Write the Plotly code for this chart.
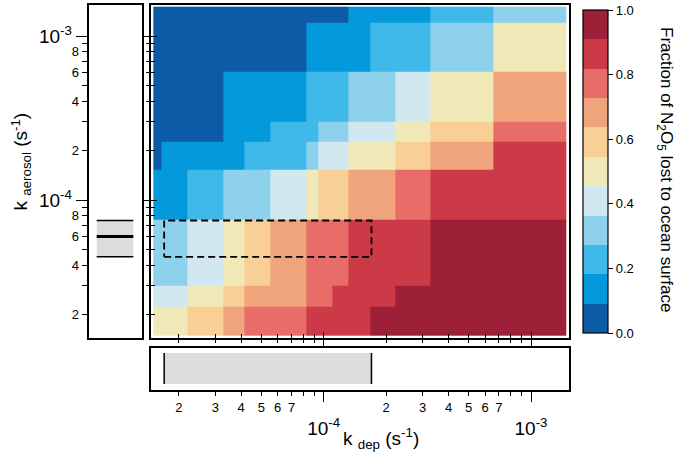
import plotly.graph_objects as go

FONT = "Liberation Sans, Arial, sans-serif"

# ---------------- data ----------------
# cell edges of the k_dep (x) and k_aerosol (y) grid, s^-1
kdep_edges = [1.507e-5, 1.654e-5, 2.203e-5, 3.285e-5, 4.135e-5, 5.51e-5, 8.21e-5,
              9.42e-5, 1.096e-4, 1.312e-4, 1.672e-4, 2.208e-4, 3.28e-4, 6.58e-4, 1.486e-3]
kaer_edges = [1.494e-5, 2.244e-5, 3.01e-5, 7.55e-5, 1.524e-4, 2.266e-4, 3.00e-4,
              6.06e-4, 1.205e-3, 1.509e-3]

# fraction of N2O5 lost to ocean surface (rows bottom -> top)
frac_row1 = [0.50, 0.50, 0.59, 0.68, 0.77, 0.77, 0.86, 0.86, 0.86, 0.86, 0.95, 0.95, 0.95, 0.95]
frac_row2 = [0.41, 0.41, 0.50, 0.59, 0.68, 0.68, 0.77, 0.77, 0.86, 0.86, 0.86, 0.95, 0.95, 0.95]
frac_row3 = [0.32, 0.32, 0.41, 0.50, 0.59, 0.68, 0.77, 0.77, 0.77, 0.86, 0.86, 0.86, 0.95, 0.95]
frac_row4 = [0.14, 0.14, 0.23, 0.32, 0.32, 0.41, 0.50, 0.59, 0.59, 0.68, 0.68, 0.77, 0.86, 0.86]
frac_row5 = [0.05, 0.14, 0.14, 0.14, 0.23, 0.23, 0.32, 0.41, 0.41, 0.50, 0.50, 0.59, 0.68, 0.86]
frac_row6 = [0.05, 0.05, 0.05, 0.14, 0.14, 0.23, 0.23, 0.32, 0.32, 0.41, 0.41, 0.50, 0.59, 0.77]
frac_row7 = [0.05, 0.05, 0.05, 0.14, 0.14, 0.14, 0.23, 0.23, 0.23, 0.32, 0.32, 0.41, 0.50, 0.68]
frac_row8 = [0.05, 0.05, 0.05, 0.05, 0.05, 0.05, 0.14, 0.14, 0.14, 0.14, 0.23, 0.23, 0.32, 0.50]
frac_row9 = [0.05, 0.05, 0.05, 0.05, 0.05, 0.05, 0.05, 0.05, 0.05, 0.14, 0.14, 0.14, 0.23, 0.32]

# observed ranges
kdep_range = [1.7e-5, 1.7e-4]
kaer_range = [4.5e-5, 7.5e-5]
kaer_best = 6.0e-5

# ticks
decade_ticks = [1e-4, 1e-3]
decade_labels = ["10<sup>-4</sup>", "10<sup>-3</sup>"]
minor_ticks = [2e-5, 3e-5, 4e-5, 5e-5, 6e-5, 7e-5, 8e-5, 9e-5,
               2e-4, 3e-4, 4e-4, 5e-4, 6e-4, 7e-4, 8e-4, 9e-4]
x_lab_ticks = [2e-5, 3e-5, 4e-5, 5e-5, 6e-5, 7e-5, 2e-4, 3e-4, 4e-4, 5e-4, 6e-4, 7e-4]
x_lab_text = ["2", "3", "4", "5", "6", "7", "2", "3", "4", "5", "6", "7"]
x_unlab_ticks = [8e-5, 9e-5, 8e-4, 9e-4]
y_lab_ticks = [2e-5, 4e-5, 6e-5, 8e-5, 2e-4, 4e-4, 6e-4, 8e-4]
y_lab_text = ["2", "4", "6", "8", "2", "4", "6", "8"]
y_unlab_ticks = [3e-5, 5e-5, 7e-5, 9e-5, 3e-4, 5e-4, 7e-4, 9e-4]
cbar_ticks = [0.0, 0.2, 0.4, 0.6, 0.8, 1.0]
cbar_labels = ["0.0", "0.2", "0.4", "0.6", "0.8", "1.0"]

bin_colors = ["#0b5ba7", "#0399da", "#3fb9ea", "#8ed1ec", "#d2e8f0", "#f1e8b8",
              "#f8d096", "#f0a47c", "#e86d68", "#cc3a47", "#9e1f38"]

# ---------------- figure ----------------
frac = [frac_row1, frac_row2, frac_row3, frac_row4, frac_row5,
        frac_row6, frac_row7, frac_row8, frac_row9]
nb = len(bin_colors)
cscale = []
for k, c in enumerate(bin_colors):
    cscale.append([k / nb, c])
    cscale.append([(k + 1) / nb, c])

fig = go.Figure()

fig.add_trace(go.Heatmap(
    x=kdep_edges, y=kaer_edges, z=frac, zmin=0, zmax=1,
    colorscale=cscale, hoverinfo="skip", xaxis="x", yaxis="y",
    colorbar=dict(
        x=583 / 678, xanchor="left", xpad=0, ypad=0,
        y=(457 - 171.5) / 457, yanchor="middle", len=323 / 457, lenmode="fraction",
        thickness=25, outlinewidth=1.2, outlinecolor="black",
        tickmode="array", tickvals=cbar_ticks, ticktext=cbar_labels,
        ticks="outside", ticklen=5, tickwidth=1.2, tickcolor="black",
        tickfont=dict(family=FONT, size=13, color="black"),
    ),
))

# dashed box on the main panel
fig.add_trace(go.Scatter(
    x=[kdep_range[0], kdep_range[1], kdep_range[1], kdep_range[0], kdep_range[0]],
    y=[kaer_range[0], kaer_range[0], kaer_range[1], kaer_range[1], kaer_range[0]],
    mode="lines", line=dict(color="black", width=1.8, dash="7px,4px"),
    xaxis="x", yaxis="y", hoverinfo="skip", showlegend=False))

# left panel: k_aerosol range
bx = [0.155, 0.845]
fig.add_trace(go.Scatter(
    x=[bx[0], bx[1], bx[1], bx[0]], y=[kaer_range[0], kaer_range[0], kaer_range[1], kaer_range[1]],
    fill="toself", fillcolor="#dcdcdc", mode="lines", line=dict(width=0),
    xaxis="x3", yaxis="y3", hoverinfo="skip", showlegend=False))
for val, w in [(kaer_range[0], 1.5), (kaer_range[1], 1.5), (kaer_best, 3)]:
    fig.add_trace(go.Scatter(
        x=bx, y=[val, val], mode="lines", line=dict(color="black", width=w),
        xaxis="x3", yaxis="y3", hoverinfo="skip", showlegend=False))

# bottom panel: k_dep range
by = [0.143, 0.88]
fig.add_trace(go.Scatter(
    x=[kdep_range[0], kdep_range[1], kdep_range[1], kdep_range[0]], y=[by[0], by[0], by[1], by[1]],
    fill="toself", fillcolor="#dcdcdc", mode="lines", line=dict(width=0),
    xaxis="x2", yaxis="y2", hoverinfo="skip", showlegend=False))
for val in kdep_range:
    fig.add_trace(go.Scatter(
        x=[val, val], y=by, mode="lines", line=dict(color="black", width=1.5),
        xaxis="x2", yaxis="y2", hoverinfo="skip", showlegend=False))

# empty traces so that the overlay tick axes are drawn
for xa, ya in [("x4", "y2"), ("x3", "y4"), ("x5", "y"), ("x", "y5")]:
    fig.add_trace(go.Scatter(x=[], y=[], xaxis=xa, yaxis=ya, mode="lines",
                             hoverinfo="skip", showlegend=False))

# ---------------- layout ----------------
XDOM = [151 / 678, 569 / 678]
YDOM = [(457 - 338) / 457, (457 - 5) / 457]
XR = [-4.83309, -2.81669]
YR = [-4.84146, -2.81098]

frame = dict(showline=True, mirror=True, linecolor="black", linewidth=1.5,
             showgrid=False, zeroline=False)
tickbase = dict(tickcolor="black", tickwidth=1.2, tickmode="array")


def minor(vals, ticks, ln):
    return dict(tickmode="array", tickvals=vals, ticks=ticks, ticklen=ln,
                tickwidth=1.2, tickcolor="black", showgrid=False)


fig.update_layout(
    width=678, height=457, margin=dict(l=0, r=0, t=0, b=0),
    paper_bgcolor="white", plot_bgcolor="white", showlegend=False,
    font=dict(family=FONT, color="black"),
    # main panel
    xaxis=dict(domain=XDOM, type="log", range=XR, anchor="y", **frame, **tickbase,
               ticks="outside", tickvals=decade_ticks, ticklen=6, showticklabels=False,
               minor=minor(minor_ticks, "outside", 3)),
    yaxis=dict(domain=YDOM, type="log", range=YR, anchor="x", **frame, **tickbase,
               ticks="outside", tickvals=decade_ticks, ticklen=6, showticklabels=False,
               minor=minor(minor_ticks, "outside", 3)),
    xaxis5=dict(overlaying="x", type="log", range=XR, anchor="y", side="bottom",
                showline=False, showgrid=False, zeroline=False, **tickbase,
                ticks="inside", tickvals=decade_ticks, ticklen=6, showticklabels=False,
                minor=minor(minor_ticks, "inside", 4)),
    yaxis5=dict(overlaying="y", type="log", range=YR, anchor="x", side="left",
                showline=False, showgrid=False, zeroline=False, **tickbase,
                ticks="inside", tickvals=decade_ticks, ticklen=6, showticklabels=False,
                minor=minor(minor_ticks, "inside", 4)),
    # bottom panel
    xaxis2=dict(domain=XDOM, type="log", range=XR, anchor="y2", **frame, **tickbase,
                ticks="outside", tickvals=decade_ticks, ticktext=decade_labels, ticklen=10,
                tickfont=dict(size=19), ticklabelstandoff=10),
    xaxis4=dict(overlaying="x2", type="log", range=XR, anchor="y2", side="bottom",
                showline=False, showgrid=False, zeroline=False, **tickbase,
                ticks="outside", tickvals=x_lab_ticks, ticktext=x_lab_text, ticklen=5,
                tickfont=dict(size=13), minor=minor(x_unlab_ticks, "outside", 5)),
    yaxis2=dict(domain=[(457 - 390) / 457, (457 - 348) / 457], range=[0, 1], anchor="x2",
                **frame, ticks="", showticklabels=False),
    # left panel
    xaxis3=dict(domain=[88.5 / 678, 141.5 / 678], range=[0, 1], anchor="y3", **frame,
                ticks="", showticklabels=False),
    yaxis3=dict(domain=YDOM, type="log", range=YR, anchor="x3", **frame, **tickbase,
                ticks="outside", tickvals=decade_ticks, ticktext=decade_labels, ticklen=11,
                tickfont=dict(size=19)),
    yaxis4=dict(overlaying="y3", type="log", range=YR, anchor="x3", side="left",
                showline=False, showgrid=False, zeroline=False, **tickbase,
                ticks="outside", tickvals=y_lab_ticks, ticktext=y_lab_text, ticklen=6,
                tickfont=dict(size=13), minor=minor(y_unlab_ticks, "outside", 6)),
    annotations=[
        dict(text="k <sub>dep</sub> (s<sup>-1</sup>)", xref="paper", yref="paper",
             x=381 / 678, y=(457 - 438) / 457, xanchor="center", yanchor="middle",
             showarrow=False, font=dict(family=FONT, size=19, color="black")),
        dict(text="k <sub>aerosol</sub> (s<sup>-1</sup>)", xref="paper", yref="paper",
             x=21 / 678, y=(457 - 161.5) / 457, xanchor="center", yanchor="middle",
             showarrow=False, textangle=-90,
             font=dict(family=FONT, size=19, color="black")),
        dict(text="Fraction of N<sub>2</sub>O<sub>5</sub> lost to ocean surface",
             xref="paper", yref="paper", x=665 / 678, y=(457 - 169) / 457,
             xanchor="center", yanchor="middle", showarrow=False, textangle=90,
             font=dict(family=FONT, size=17, color="black")),
    ],
)

fig.write_html("out.html", config={"displayModeBar": False},
               post_script="document.body.style.margin='0';document.body.style.overflow='hidden';")
